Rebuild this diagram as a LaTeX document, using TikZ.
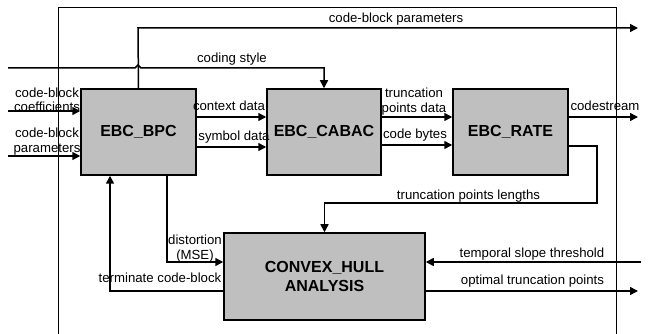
\documentclass[tikz,border=0pt]{standalone}
\usepackage{fontspec}
\setmainfont{Liberation Sans}
\usetikzlibrary{arrows.meta}
\begin{document}
\begin{tikzpicture}[x=1pt,y=-1pt,
  blk/.style={draw=black,line width=1.5pt,fill=black!25,font=\fontsize{16}{19}\selectfont\bfseries,align=center,inner sep=0pt},
  con/.style={line width=1.5pt,-{Triangle[length=8pt,width=8pt]}},
  conn/.style={line width=1.5pt},
  lbl/.style={font=\fontsize{13.2}{14.5}\selectfont,inner sep=0pt,anchor=base,align=center},
  lbl2/.style={font=\fontsize{13.2}{14.5}\selectfont,inner sep=0pt,anchor=south,align=center}]
\useasboundingbox (0,0) rectangle (649,334);
% outer frame
\draw[line width=0.7pt] (58,334) -- (58,7) -- (616,7) -- (616,334);
% blocks
\node[blk,minimum width=115pt,minimum height=86pt] (bpc) at (138.5,132) {EBC\_BPC};
\node[blk,minimum width=114pt,minimum height=86pt] (cabac) at (324,132) {EBC\_CABAC};
\node[blk,minimum width=115pt,minimum height=86pt] (rate) at (510.5,132) {EBC\_RATE};
\node[blk,minimum width=201pt,minimum height=87pt] (hull) at (324.5,276.5) {CONVEX\_HULL\\ANALYSIS};
% coordinates
\coordinate (cbpOut) at (638,28);
\coordinate (csIn) at (8,68);
\coordinate (coefIn) at (8,111);
\coordinate (parIn) at (8,156);
\coordinate (csOut) at (638,117);
\coordinate (tsIn) at (641,262);
\coordinate (otpOut) at (638,291);
% connectors
\draw[con] (bpc.north) -- (138,28) -- (cbpOut);
\draw[con] (csIn) -- (135,68) -- (138,65) -- (141,68) -- (cabac.north |- 0,68) -- (cabac.north);
\draw[con] (coefIn) -- (coefIn -| bpc.west);
\draw[con] (parIn) -- (parIn -| bpc.west);
\draw[con] (bpc.east |- 0,117) -- (cabac.west |- 0,117);
\draw[con] (bpc.east |- 0,147) -- (cabac.west |- 0,147);
\draw[con] (cabac.east |- 0,117) -- (rate.west |- 0,117);
\draw[con] (cabac.east |- 0,145) -- (rate.west |- 0,145);
\draw[con] (rate.east |- 0,117) -- (csOut);
\draw[con] (rate.east |- 0,146) -- (597,146) -- (597,203) -- (hull.north |- 0,203) -- (hull.north);
\draw[con] (bpc.south -| 167,0) -- (167,262) -- (hull.west |- 0,262);
\draw[con] (hull.west |- 0,291) -- (110,291) -- (bpc.south -| 110,0);
\draw[con] (tsIn) -- (tsIn -| hull.east);
\draw[con] (hull.east |- otpOut) -- (otpOut);
% labels
\node[lbl] (l1) at (396,23) {code-block parameters};
\node[lbl] (l2) at (232,63) {coding style};
\node[lbl2] (l3) at (47,112) {code-block\\coefficients};
\node[lbl2] (l4) at (47,155) {code-block\\parameters};
\node[lbl] (l5) at (229,111) {context data};
\node[lbl] (l6) at (234,141) {symbol data};
\node[lbl2] (l7) at (414,115) {truncation\\points data};
\node[lbl] (l8) at (415,139) {code bytes};
\node[lbl] (l9) at (605,111) {codestream};
\node[lbl] (l10) at (468.5,200) {truncation points lengths};
\node[lbl2] (l11) at (195,262) {distortion\\(MSE)};
\node[lbl] (l12) at (160,283) {terminate code-block};
\node[lbl] (l13) at (532,258) {temporal slope threshold};
\node[lbl] (l14) at (532.5,285) {optimal truncation points};
\end{tikzpicture}
\end{document}
